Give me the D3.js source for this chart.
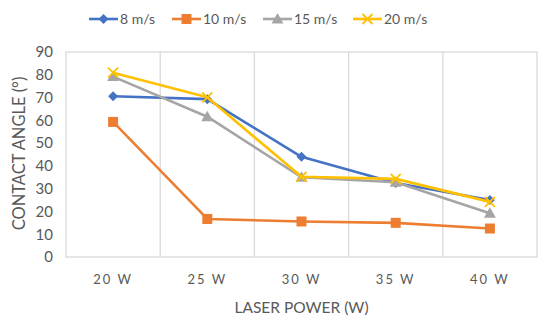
<!DOCTYPE html>
<html>
<head>
<meta charset="utf-8">
<script src="https://cdn.jsdelivr.net/npm/d3@7"></script>
<style>
  body { margin: 0; background: #fff; }
  text { font-family: Lato, "Open Sans", sans-serif; fill: #595959; }
</style>
</head>
<body>
<div id="chart"></div>
<script>
const powers = ["20 W", "25 W", "30 W", "35 W", "40 W"];
const speeds = ["8 m/s", "10 m/s", "15 m/s", "20 m/s"];
const angle8 = [70.6, 69.3, 44.0, 32.5, 25.0];
const angle10 = [59.3, 16.7, 15.6, 15.0, 12.5];
const angle15 = [79.2, 61.6, 35.0, 32.8, 19.2];
const angle20 = [80.9, 70.1, 35.2, 34.3, 24.2];
const yTicks = [0, 10, 20, 30, 40, 50, 60, 70, 80, 90];

const series = [
    { name: speeds[0], values: angle8, color: "#4472c4", marker: "diamond" },
    { name: speeds[1], values: angle10, color: "#ed7d31", marker: "square" },
    { name: speeds[2], values: angle15, color: "#a5a5a5", marker: "triangle" },
    { name: speeds[3], values: angle20, color: "#ffc000", marker: "cross" }
];

const width = 550, height = 323;
const margin = {top: 52, right: 13, bottom: 66, left: 66};
const innerW = width - margin.left - margin.right;
const innerH = height - margin.top - margin.bottom;

const svg = d3.select("#chart")
    .append("svg")
    .attr("width", width)
    .attr("height", height);

const g = svg.append("g")
    .attr("transform", `translate(${margin.left},${margin.top})`);

const x = d3.scaleBand().domain(powers).range([0, innerW]);
const y = d3.scaleLinear().domain([0, 90]).range([innerH, 0]);

// plot border + category gridlines
g.append("rect")
    .attr("width", innerW)
    .attr("height", innerH)
    .attr("fill", "none")
    .attr("stroke", "#d9d9d9")
    .attr("stroke-width", 1.3);

g.selectAll(".vgrid")
    .data(powers.slice(1))
    .join("line")
    .attr("x1", d => x(d))
    .attr("x2", d => x(d))
    .attr("y1", 0)
    .attr("y2", innerH)
    .attr("stroke", "#d9d9d9")
    .attr("stroke-width", 1.3);

// Y axis
const yAxis = g.append("g")
    .call(d3.axisLeft(y).tickValues(yTicks).tickSize(0).tickPadding(13));
yAxis.select(".domain").remove();
yAxis.selectAll("text")
    .style("font-size", "15px")
    .style("font-family", "Lato, sans-serif")
    .attr("fill", "#595959");

// X axis
const xAxis = g.append("g")
    .attr("transform", `translate(0,${innerH})`)
    .call(d3.axisBottom(x).tickSize(0).tickPadding(18));
xAxis.select(".domain").remove();
xAxis.selectAll("text")
    .style("font-size", "13px")
    .style("letter-spacing", "2px")
    .style("font-family", "Lato, sans-serif")
    .attr("fill", "#595959");

// axis titles
svg.append("text")
    .attr("transform", "rotate(-90)")
    .attr("x", -(margin.top + innerH / 2 - 1))
    .attr("y", 25)
    .attr("text-anchor", "middle")
    .style("font-size", "16.5px")
    .text("CONTACT ANGLE (°)");

svg.append("text")
    .attr("x", margin.left + innerW / 2)
    .attr("y", 313)
    .attr("text-anchor", "middle")
    .style("font-size", "15.5px")
    .text("LASER POWER (W)");

const cx = p => x(p) + x.bandwidth() / 2;

function drawMarker(sel, type, color) {
    if (type === "diamond") {
        sel.append("path").attr("d", "M0,-5L5,0L0,5L-5,0Z").attr("fill", color);
    } else if (type === "square") {
        sel.append("rect").attr("x", -5).attr("y", -5).attr("width", 10).attr("height", 10).attr("fill", color);
    } else if (type === "triangle") {
        sel.append("path").attr("d", "M0,-6L6,4.5L-6,4.5Z").attr("fill", color);
    } else {
        sel.append("path").attr("d", "M-5,-5L5,5M-5,5L5,-5").attr("stroke", color).attr("stroke-width", 1.8).attr("fill", "none");
    }
}

const line = d3.line()
    .x((d, i) => cx(powers[i]))
    .y(d => y(d));

series.forEach(s => {
    g.append("path")
        .datum(s.values)
        .attr("fill", "none")
        .attr("stroke", s.color)
        .attr("stroke-width", 2.6)
        .attr("stroke-linejoin", "round")
        .attr("d", line);

    s.values.forEach((v, i) => {
        const m = g.append("g").attr("transform", `translate(${cx(powers[i])},${y(v)})`);
        drawMarker(m, s.marker, s.color);
    });
});

// Legend
const legendX = [89, 172, 263, 353];
series.forEach((s, i) => {
    const lg = svg.append("g").attr("transform", `translate(${legendX[i]},19)`);
    lg.append("line")
        .attr("x1", 0).attr("x2", 29)
        .attr("stroke", s.color)
        .attr("stroke-width", 2.6);
    const m = lg.append("g").attr("transform", "translate(14.5,0)");
    drawMarker(m, s.marker, s.color);
    lg.append("text")
        .attr("x", 31)
        .attr("y", 5)
        .style("font-size", "14px")
        .text(s.name);
});
</script>
</body>
</html>
